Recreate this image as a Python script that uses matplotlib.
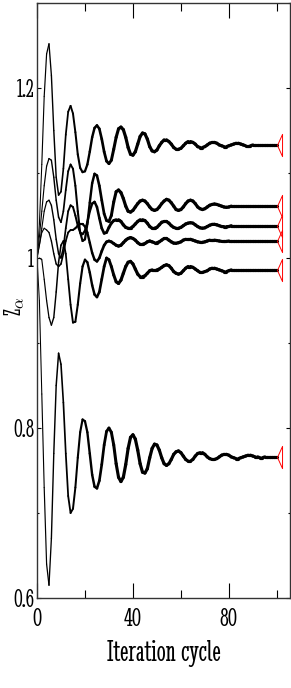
import matplotlib
matplotlib.use("Agg")
import matplotlib.pyplot as plt
import numpy as np
from matplotlib.collections import LineCollection

iteration = np.arange(0, 101)

z_1 = [1.000, 1.040, 1.110, 1.190, 1.240, 1.252, 1.215, 1.150, 1.095, 1.074,
       1.078, 1.105, 1.145, 1.172, 1.179, 1.170, 1.148, 1.122, 1.106, 1.101,
       1.102, 1.110, 1.125, 1.142, 1.153, 1.156, 1.152, 1.140, 1.125, 1.114,
       1.111, 1.115, 1.128, 1.142, 1.152, 1.154, 1.151, 1.142, 1.130, 1.122,
       1.121, 1.125, 1.134, 1.143, 1.147, 1.146, 1.140, 1.131, 1.126, 1.125,
       1.127, 1.132, 1.136, 1.139, 1.139, 1.137, 1.134, 1.130, 1.128, 1.128,
       1.129, 1.132, 1.135, 1.137, 1.137, 1.136, 1.134, 1.131, 1.130, 1.130,
       1.131, 1.133, 1.135, 1.136, 1.136, 1.135, 1.133, 1.132, 1.131, 1.131,
       1.132, 1.133, 1.134, 1.135, 1.135, 1.134, 1.133, 1.132, 1.132, 1.132,
       1.133, 1.133, 1.133, 1.133, 1.133, 1.133, 1.133, 1.133, 1.133, 1.133, 1.133]

z_2 = [1.000, 1.025, 1.055, 1.085, 1.108, 1.117, 1.115, 1.095, 1.068, 1.048,
       1.042, 1.055, 1.080, 1.102, 1.110, 1.105, 1.085, 1.055, 1.030, 1.020,
       1.022, 1.040, 1.065, 1.088, 1.099, 1.097, 1.085, 1.068, 1.052, 1.044,
       1.043, 1.050, 1.066, 1.078, 1.080, 1.077, 1.070, 1.061, 1.055, 1.054,
       1.056, 1.060, 1.064, 1.067, 1.068, 1.067, 1.064, 1.060, 1.057, 1.056,
       1.057, 1.060, 1.064, 1.067, 1.069, 1.068, 1.065, 1.061, 1.057, 1.056,
       1.057, 1.060, 1.064, 1.067, 1.068, 1.067, 1.064, 1.060, 1.058, 1.057,
       1.058, 1.060, 1.062, 1.063, 1.0635, 1.063, 1.062, 1.061, 1.060, 1.0596,
       1.060, 1.061, 1.061, 1.061, 1.061, 1.061, 1.061, 1.061, 1.061, 1.061,
       1.061, 1.061, 1.061, 1.061, 1.061, 1.061, 1.061, 1.061, 1.061, 1.061, 1.061]

z_3 = [1.000, 1.015, 1.035, 1.055, 1.066, 1.068, 1.062, 1.045, 1.022, 1.005,
       1.000, 1.012, 1.035, 1.055, 1.062, 1.060, 1.050, 1.038, 1.030, 1.028,
       1.032, 1.042, 1.055, 1.064, 1.066, 1.060, 1.047, 1.035, 1.029, 1.030,
       1.036, 1.041, 1.044, 1.045, 1.045, 1.043, 1.039, 1.036, 1.035, 1.035,
       1.037, 1.040, 1.043, 1.045, 1.045, 1.044, 1.041, 1.037, 1.035, 1.035,
       1.036, 1.039, 1.042, 1.043, 1.043, 1.041, 1.038, 1.036, 1.035, 1.035,
       1.036, 1.038, 1.040, 1.041, 1.0415, 1.041, 1.039, 1.037, 1.0355, 1.035,
       1.0355, 1.037, 1.0385, 1.0395, 1.0396, 1.039, 1.038, 1.037, 1.0369, 1.0369,
       1.037, 1.038, 1.038, 1.038, 1.038, 1.038, 1.038, 1.038, 1.038, 1.038,
       1.038, 1.038, 1.038, 1.038, 1.038, 1.038, 1.038, 1.038, 1.038, 1.038, 1.038]

z_4 = [1.000, 1.015, 1.030, 1.035, 1.033, 1.030, 1.020, 1.005, 0.993, 0.990,
       0.993, 1.005, 1.020, 1.030, 1.033, 1.033, 1.035, 1.038, 1.040, 1.040,
       1.037, 1.030, 1.018, 1.006, 0.998, 0.996, 1.000, 1.008, 1.015, 1.019,
       1.020, 1.019, 1.017, 1.015, 1.014, 1.015, 1.018, 1.021, 1.023, 1.024,
       1.023, 1.021, 1.018, 1.016, 1.016, 1.017, 1.019, 1.020, 1.019, 1.018,
       1.018, 1.019, 1.021, 1.023, 1.023, 1.021, 1.019, 1.0175, 1.0173, 1.018,
       1.019, 1.021, 1.022, 1.022, 1.022, 1.021, 1.020, 1.019, 1.0185, 1.0185,
       1.019, 1.020, 1.021, 1.021, 1.021, 1.0205, 1.020, 1.0195, 1.0195, 1.0195,
       1.020, 1.020, 1.020, 1.020, 1.020, 1.020, 1.020, 1.020, 1.020, 1.020,
       1.020, 1.020, 1.020, 1.020, 1.020, 1.020, 1.020, 1.020, 1.020, 1.020, 1.020]

z_5 = [1.000, 1.000, 0.998, 0.975, 0.950, 0.930, 0.921, 0.930, 0.960, 0.995,
       1.015, 1.020, 1.005, 0.975, 0.945, 0.924, 0.925, 0.945, 0.970, 0.990,
       0.998, 0.995, 0.983, 0.968, 0.957, 0.954, 0.960, 0.975, 0.990, 1.000,
       0.998, 0.990, 0.980, 0.972, 0.970, 0.974, 0.982, 0.990, 0.995, 0.996,
       0.993, 0.987, 0.981, 0.978, 0.978, 0.979, 0.982, 0.985, 0.986, 0.986,
       0.986, 0.987, 0.989, 0.991, 0.992, 0.991, 0.988, 0.984, 0.982, 0.981,
       0.982, 0.985, 0.988, 0.990, 0.990, 0.989, 0.987, 0.985, 0.983, 0.983,
       0.984, 0.985, 0.987, 0.988, 0.988, 0.987, 0.986, 0.985, 0.984, 0.984,
       0.985, 0.986, 0.986, 0.986, 0.986, 0.986, 0.986, 0.986, 0.986, 0.986,
       0.986, 0.986, 0.986, 0.986, 0.986, 0.986, 0.986, 0.986, 0.986, 0.986, 0.986]

z_6 = [1.000, 0.950, 0.840, 0.730, 0.640, 0.615, 0.670, 0.770, 0.850, 0.888,
       0.875, 0.830, 0.770, 0.720, 0.700, 0.705, 0.730, 0.765, 0.795, 0.810,
       0.808, 0.795, 0.770, 0.745, 0.731, 0.729, 0.738, 0.757, 0.780, 0.796,
       0.800, 0.795, 0.780, 0.758, 0.742, 0.737, 0.742, 0.757, 0.776, 0.789,
       0.792, 0.787, 0.774, 0.758, 0.748, 0.747, 0.752, 0.765, 0.776, 0.781,
       0.780, 0.774, 0.765, 0.758, 0.756, 0.758, 0.763, 0.769, 0.772, 0.773,
       0.771, 0.767, 0.763, 0.761, 0.761, 0.763, 0.767, 0.770, 0.771, 0.771,
       0.769, 0.766, 0.764, 0.763, 0.763, 0.764, 0.766, 0.768, 0.769, 0.769,
       0.768, 0.766, 0.765, 0.764, 0.764, 0.765, 0.766, 0.767, 0.768, 0.768,
       0.767, 0.766, 0.766, 0.765, 0.765, 0.766, 0.766, 0.766, 0.766, 0.766, 0.766]

all_z = [z_1, z_2, z_3, z_4, z_5, z_6]

# narrow serif face, the reference text is very condensed
plt.rcParams['font.family'] = ['Stint Ultra Condensed', 'DejaVu Serif']
plt.rcParams['mathtext.fontset'] = 'custom'
plt.rcParams['mathtext.rm'] = 'Stint Ultra Condensed'
plt.rcParams['mathtext.it'] = 'Stint Ultra Condensed'
plt.rcParams['xtick.direction'] = 'in'
plt.rcParams['ytick.direction'] = 'in'
plt.rcParams['xtick.top'] = True
plt.rcParams['ytick.right'] = True

fig = plt.figure(figsize=(2.91, 6.88), dpi=100)
ax = fig.add_axes([37/291, 90/688, 253/291, 595/688])

for z in all_z:
    pts = np.column_stack([iteration, z])
    segs = np.stack([pts[:-1], pts[1:]], axis=1)
    xm = 0.5 * (pts[:-1, 0] + pts[1:, 0])
    lw = np.clip(0.7 + xm / 35.0 * 1.6, 0.7, 2.3)
    lc = LineCollection(segs, linewidths=lw, colors='black', capstyle='round')
    ax.add_collection(lc)

# open red triangle on the last point of every curve
tri = [(0, 0), (5, 11), (5, -11), (0, 0)]
ax.plot([iteration[-1]] * len(all_z), [z[-1] for z in all_z], linestyle='None',
        marker=tri, markersize=16, markerfacecolor='none', markeredgecolor='red',
        markeredgewidth=0.7)

ax.set_xlim(0, 105.5)
ax.set_ylim(0.6, 1.3)
ax.set_xticks([0, 40, 80])
ax.set_xticks([20, 60, 100], minor=True)
ax.set_yticks([0.6, 0.8, 1.0, 1.2])
ax.set_yticklabels(['0.6', '0.8', '1', '1.2'])
ax.set_yticks([0.7, 0.9, 1.1, 1.3], minor=True)
ax.tick_params(axis='x', which='major', length=11, width=0.8, labelsize=20, pad=7)
ax.tick_params(axis='x', which='minor', length=6, width=0.8)
ax.tick_params(axis='y', which='major', length=3, width=0.8, labelsize=19, pad=2)
ax.tick_params(axis='y', which='minor', length=1.5, width=0.8)
for s in ax.spines.values():
    s.set_linewidth(1.0)
    s.set_color('#333333')

ax.set_xlabel('Iteration cycle', fontsize=23, labelpad=7)
ax.set_ylabel(r'$\mathrm{Z}_\alpha$', fontsize=17)
ax.yaxis.label.set_va('baseline')
ax.yaxis.set_label_coords(-0.062, 0.49)

fig.savefig('out.png', dpi=100)
